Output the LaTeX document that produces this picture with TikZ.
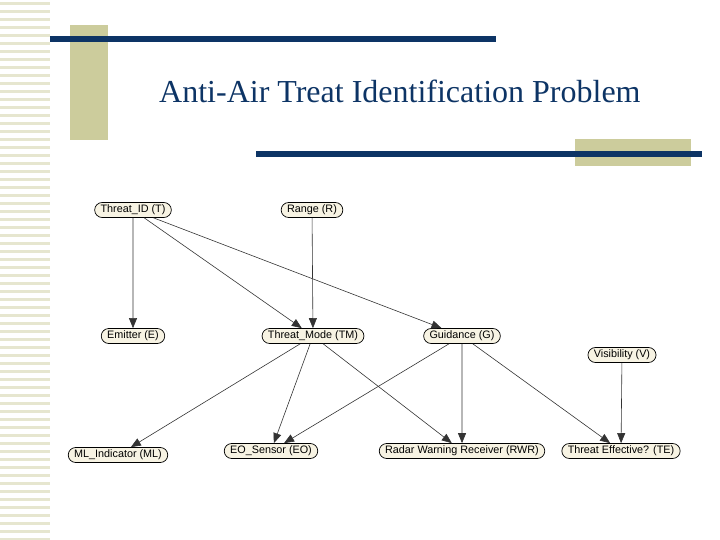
\documentclass[tikz,border=0pt]{standalone}
\usepackage{fontspec}
\setmainfont{Liberation Serif}
\setsansfont{Liberation Sans}
\usetikzlibrary{arrows.meta,positioning,shapes.misc}
\definecolor{navy}    {HTML}{0D3465}
\definecolor{olive}   {HTML}{CCCC9C}
\definecolor{oliveLt} {HTML}{E6E6CF}
\definecolor{cream}   {HTML}{F7F3E3}
\definecolor{wire}    {HTML}{333333}

\begin{document}
\begin{tikzpicture}[x=1pt,y=-1pt,
   var/.style={rounded rectangle, draw=black, fill=cream, line width=0.7pt,
               inner xsep=4pt, inner ysep=0pt, minimum height=15pt,
               font=\fontsize{10.8}{11}\sffamily},
   link/.style={draw=wire, line width=0.6pt, -{Triangle[length=10pt,width=8pt]}}
]
\useasboundingbox (0,0) rectangle (720,540);
% left stripes
\foreach \i in {0,...,67}{
  \pgfmathsetmacro{\y}{2+\i*8}
  \fill[oliveLt] (0,\y) rectangle (50,\y+2.6);
}
% header bars
\fill[olive] (70,25) rectangle (108,140);
\fill[navy] (50,36) rectangle (496,42);
\fill[olive] (575,139) rectangle (691,166);
\fill[navy] (256,151) rectangle (702,157);
\node[font=\fontsize{32}{34}\selectfont, color=navy, anchor=base west, inner sep=0pt] (title) at (159,103)
  {Anti-Air Treat Identification Problem};

% variables
\node[var] (t)   at (133,210) {Threat\_ID (T)};
\node[var] (r)   at (312,210) {Range (R)};
\node[var] (e)   at (133,336) {Emitter (E)};
\node[var] (tm)  at (313,336) {Threat\_Mode (TM)};
\node[var] (g)   at (462,336) {Guidance (G)};
\node[var] (v)   at (622,355) {Visibility (V)};
\node[var] (ml)  at (118,455) {ML\_Indicator (ML)};
\node[var] (eo)  at (271,451) {EO\_Sensor (EO)};
\node[var] (rwr) at (462,451) {Radar Warning Receiver (RWR)};
\node[var] (te)  at (621,451) {Threat Effective? (TE)};

% dependencies
\foreach \a/\b in {t/e,t/tm,t/g,r/tm,tm/ml,tm/eo,tm/rwr,g/eo,g/rwr,g/te,v/te}
  \draw[link] (\a) -- (\b);
\end{tikzpicture}
\end{document}
